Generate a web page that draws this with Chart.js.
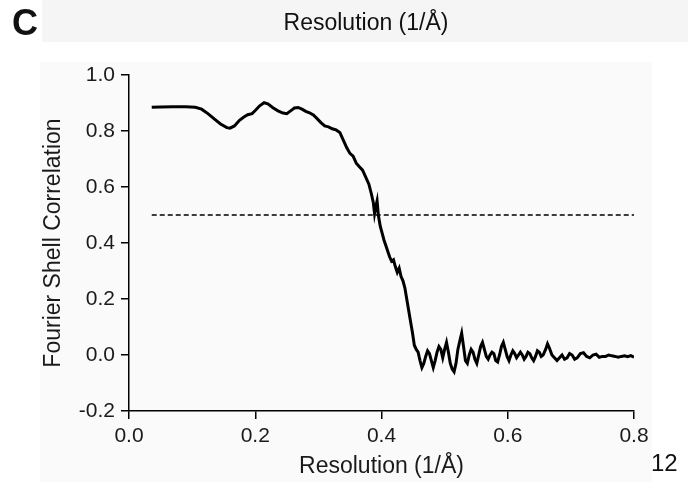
<!DOCTYPE html>
<html>
<head>
<meta charset="utf-8">
<script src="https://cdn.jsdelivr.net/npm/chart.js@4.4.1/dist/chart.umd.min.js"></script>
<style>
    html, body { margin: 0; padding: 0; background: #ffffff; }
    #wrap { position: relative; width: 688px; height: 488px; overflow: hidden; font-family: 'Liberation Sans', Arial, sans-serif; }
    #topband { position: absolute; left: 42px; top: 0; width: 646px; height: 42px; background: #f5f5f5; }
    #panel { position: absolute; left: 40px; top: 62px; width: 612px; height: 420px; background: #fafafa; }
    #chart { position: absolute; left: 0; top: 0; }
    .lbl { position: absolute; color: #111; white-space: nowrap; }
    #panelLetter { left: 12px; top: 2px; font-size: 36px; font-weight: bold; }
    #topTitle { left: 366px; top: 9px; font-size: 23px; transform: translateX(-50%); }
    #pageNum { left: 651px; top: 449px; font-size: 24px; }
</style>
</head>
<body>
<div id="wrap">
    <div id="topband"></div>
    <div id="panel"></div>
    <canvas id="chart" width="688" height="488"></canvas>
    <div class="lbl" id="panelLetter">C</div>
    <div class="lbl" id="topTitle">Resolution (1/Å)</div>
    <div class="lbl" id="pageNum">12</div>
</div>
<script>
// FSC curve
const resolution = [
    0.036, 0.05, 0.07, 0.09, 0.105, 0.115, 0.125, 0.135, 0.145, 0.155, 0.16, 0.167, 0.175, 0.182, 0.188,
    0.195, 0.2, 0.207, 0.214, 0.22, 0.228, 0.236, 0.244, 0.25, 0.256, 0.262, 0.268, 0.274, 0.28, 0.286,
    0.292, 0.298, 0.304, 0.31, 0.316, 0.322, 0.328, 0.334, 0.34, 0.345, 0.35, 0.355, 0.36, 0.365, 0.37,
    0.375, 0.38, 0.384, 0.387, 0.389, 0.391, 0.393, 0.395, 0.398, 0.401, 0.404, 0.407, 0.41, 0.413, 0.416,
    0.419, 0.422, 0.425, 0.428, 0.431, 0.434, 0.437, 0.44, 0.443, 0.446, 0.449, 0.452, 0.455, 0.458, 0.461,
    0.464, 0.467, 0.47, 0.473, 0.476, 0.479, 0.482, 0.485, 0.488, 0.491, 0.494, 0.497, 0.5, 0.503, 0.506,
    0.509, 0.512, 0.515, 0.518, 0.521, 0.524, 0.527, 0.53, 0.533, 0.536, 0.539, 0.542, 0.545, 0.548, 0.551,
    0.554, 0.557, 0.56, 0.563, 0.566, 0.569, 0.572, 0.575, 0.578, 0.581, 0.584, 0.587, 0.59, 0.593, 0.596,
    0.599, 0.602, 0.605, 0.608, 0.611, 0.614, 0.617, 0.62, 0.623, 0.626, 0.629, 0.632, 0.635, 0.638, 0.641,
    0.644, 0.647, 0.65, 0.653, 0.656, 0.66, 0.663, 0.666, 0.67, 0.674, 0.678, 0.682, 0.686, 0.69, 0.694,
    0.698, 0.702, 0.706, 0.71, 0.715, 0.72, 0.725, 0.73, 0.735, 0.74, 0.745, 0.75, 0.755, 0.76, 0.765,
    0.77, 0.775, 0.78, 0.785, 0.79, 0.795, 0.8
];
const fsc = [
    0.885, 0.886, 0.887, 0.887, 0.885, 0.878, 0.862, 0.843, 0.825, 0.812, 0.81, 0.818, 0.838, 0.85, 0.858,
    0.862, 0.873, 0.89, 0.901, 0.897, 0.883, 0.872, 0.864, 0.862, 0.872, 0.882, 0.884, 0.878, 0.87, 0.865,
    0.857, 0.844, 0.83, 0.818, 0.815, 0.808, 0.804, 0.795, 0.765, 0.74, 0.72, 0.71, 0.685, 0.672, 0.66,
    0.635, 0.61, 0.575, 0.545, 0.505, 0.53, 0.55, 0.5, 0.46, 0.435, 0.41, 0.39, 0.37, 0.35, 0.335,
    0.34, 0.315, 0.295, 0.31, 0.28, 0.265, 0.24, 0.2, 0.16, 0.12, 0.08, 0.035, 0.02, 0.01, -0.02,
    -0.045, -0.03, -0.005, 0.015, 0.005, -0.02, -0.045, -0.02, 0.01, 0.03, 0.02, -0.01, 0.02, 0.045, 0.01,
    -0.03, -0.05, -0.06, -0.03, 0.02, 0.05, 0.078, 0.03, -0.02, -0.03, 0.0, 0.02, 0.01, -0.015, -0.03,
    0.0, 0.03, 0.045, 0.02, -0.005, -0.015, 0.0, 0.01, 0.005, -0.02, -0.025, 0.0, 0.03, 0.045, 0.02,
    -0.005, -0.02, 0.0, 0.015, 0.005, -0.01, 0.0, 0.01, 0.0, -0.015, -0.005, 0.01, 0.005, -0.01, -0.02,
    -0.005, 0.015, 0.01, -0.005, 0.0, 0.02, 0.04, 0.025, 0.0, -0.01, -0.02, -0.01, 0.0, -0.015, -0.01,
    0.005, 0.0, -0.015, -0.01, 0.005, 0.008, -0.005, -0.01, 0.0, 0.003, -0.008, -0.005, -0.005, 0.0, -0.003,
    -0.005, -0.008, -0.005, -0.003, -0.006, -0.002, -0.008
];
// 0.5 threshold line
const thresholdX = [0.036, 0.8];
const thresholdY = [0.5, 0.5];
const xTicks = [0.0, 0.2, 0.4, 0.6, 0.8];
const yTicks = [-0.2, 0.0, 0.2, 0.4, 0.6, 0.8, 1.0];

const fontFamily = "'Liberation Sans', Arial, sans-serif";

new Chart(document.getElementById('chart').getContext('2d'), {
    type: 'line',
    data: {
        datasets: [
            {
                data: resolution.map((x, i) => ({x: x, y: fsc[i]})),
                borderColor: '#000000',
                borderWidth: 3,
                pointRadius: 0,
                tension: 0,
                fill: false
            },
            {
                data: thresholdX.map((x, i) => ({x: x, y: thresholdY[i]})),
                borderColor: '#000000',
                borderWidth: 1.5,
                borderDash: [5, 3],
                pointRadius: 0,
                fill: false
            }
        ]
    },
    options: {
        responsive: false,
        animation: false,
        layout: {padding: {top: 75, right: 54, left: 36, bottom: 0}},
        plugins: {legend: {display: false}, tooltip: {enabled: false}},
        scales: {
            x: {
                type: 'linear',
                min: xTicks[0],
                max: xTicks[xTicks.length - 1],
                afterBuildTicks: s => { s.ticks = xTicks.map(v => ({value: v})); },
                afterFit: s => { s.height = 77; },
                ticks: {
                    color: '#1a1a1a',
                    padding: 5,
                    maxRotation: 0,
                    font: {family: fontFamily, size: 21},
                    callback: v => Number(v).toFixed(1)
                },
                grid: {drawOnChartArea: false, drawTicks: true, tickLength: 8, color: '#000', lineWidth: 1.5},
                border: {display: true, color: '#000', width: 1.5},
                title: {
                    display: true,
                    text: 'Resolution (1/Å)',
                    color: '#1a1a1a',
                    font: {family: fontFamily, size: 23},
                    padding: {top: 0, bottom: 8}
                }
            },
            y: {
                type: 'linear',
                min: yTicks[0],
                max: yTicks[yTicks.length - 1],
                afterBuildTicks: s => { s.ticks = yTicks.map(v => ({value: v})); },
                afterFit: s => { s.width = 93; },
                ticks: {
                    color: '#1a1a1a',
                    padding: 6,
                    font: {family: fontFamily, size: 21},
                    callback: v => Number(v).toFixed(1)
                },
                grid: {drawOnChartArea: false, drawTicks: true, tickLength: 8, color: '#000', lineWidth: 1.5},
                border: {display: true, color: '#000', width: 1.5},
                title: {
                    display: true,
                    text: 'Fourier Shell Correlation',
                    color: '#1a1a1a',
                    font: {family: fontFamily, size: 23},
                    padding: {top: 4, bottom: 0}
                }
            }
        }
    }
});
</script>
</body>
</html>
